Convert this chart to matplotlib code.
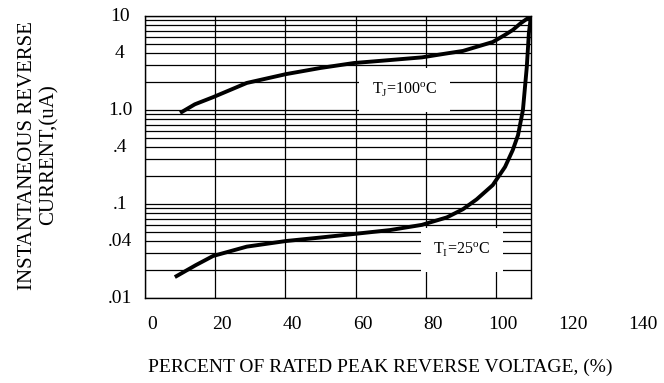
import matplotlib
matplotlib.use("Agg")
import matplotlib.pyplot as plt
import matplotlib.transforms as mtransforms

plt.rcParams['font.family'] = ['Liberation Serif', 'DejaVu Serif']
plt.rcParams['mathtext.fontset'] = 'custom'
plt.rcParams['mathtext.rm'] = 'Liberation Serif'

# percent of rated peak reverse voltage (%) -> instantaneous reverse current (uA)
volt_100 = [10.0, 14.2, 19.4, 29.0, 40.2, 50.0, 59.5, 69.8, 78.9, 86.0, 90.6, 94.5, 99.1, 102.6, 104.8, 107.1, 110.0]
curr_100 = [0.93, 1.15, 1.37, 1.94, 2.41, 2.80, 3.16, 3.40, 3.63, 4.00, 4.25, 4.70, 5.29, 6.30, 7.10, 8.40, 10.0]

volt_25 = [8.5, 14.5, 19.4, 29.0, 40.2, 50.0, 59.5, 69.8, 78.9, 86.0, 90.6, 94.5, 99.1, 102.6, 104.8, 106.3, 107.7, 108.8, 109.4, 110.0]
curr_25 = [0.0167, 0.0224, 0.028, 0.0352, 0.0404, 0.044, 0.048, 0.0528, 0.060, 0.072, 0.088, 0.112, 0.159, 0.248, 0.375, 0.54, 1.0, 2.87, 6.6, 10.0]

x_grid = [0, 20, 40, 60, 80, 100]
x_ticks = [0, 20, 40, 60, 80, 100, 120, 140]
y_ticks = [10, 4, 1.0, 0.4, 0.1, 0.04, 0.01]
y_tick_labels = ['10', '4', '1.0', '.4', '.1', '.04', '.01']

fig = plt.figure(figsize=(6.64, 3.83), dpi=100)
ax = fig.add_axes([0.2184, 0.2219, 0.5813, 0.7363])

ax.set_yscale('log')
ax.set_xlim(0, 110)
ax.set_ylim(0.01, 10)
ax.set_xticks(x_grid)
ax.tick_params(which='both', length=0, labelleft=False, labelbottom=False)
ax.grid(True, which='both', color='black', lw=0.9)
for s in ax.spines.values():
    s.set_linewidth(1.0)

ax.plot(volt_100, curr_100, color='black', lw=2.8, solid_capstyle='butt', solid_joinstyle='round', zorder=4)
ax.plot(volt_25, curr_25, color='black', lw=2.8, solid_capstyle='butt', solid_joinstyle='round', zorder=4)

box = dict(boxstyle='square,pad=0.8', fc='white', ec='none')
ax.text(74, 1.63, r'T$_{\rm J}$=100$^{\rm o}$C', fontsize=11.5, ha='center', va='center', bbox=box, zorder=3)
ax.text(90.3, 0.0324, r'T$_{\rm I}$=25$^{\rm o}$C', fontsize=11.5, ha='center', va='center', bbox=box, zorder=3)

# tick labels drawn by hand, they sit a bit off the grid in the original
xoff = mtransforms.ScaledTranslation(7 / 100, 0, fig.dpi_scale_trans)
xtr = mtransforms.blended_transform_factory(ax.transData, ax.transAxes) + xoff
for v in x_ticks:
    ax.text(v, -0.095, str(v), transform=xtr, fontsize=14, ha='center', va='center', clip_on=False)

ytr = mtransforms.blended_transform_factory(ax.transAxes, ax.transData)
for v, lab in zip(y_ticks, y_tick_labels):
    ax.text(-0.065, v, lab, transform=ytr, fontsize=14, ha='center', va='center', clip_on=False)

fig.text(0.572, 0.042, 'PERCENT OF RATED PEAK REVERSE VOLTAGE, (%)', fontsize=14, ha='center', va='center')
fig.text(0.058, 0.595, 'INSTANTANEOUS REVERSE\nCURRENT,(uA)', fontsize=15, rotation=90,
         ha='center', va='center', multialignment='center', linespacing=1.15)

fig.savefig('out.png', dpi=100)
